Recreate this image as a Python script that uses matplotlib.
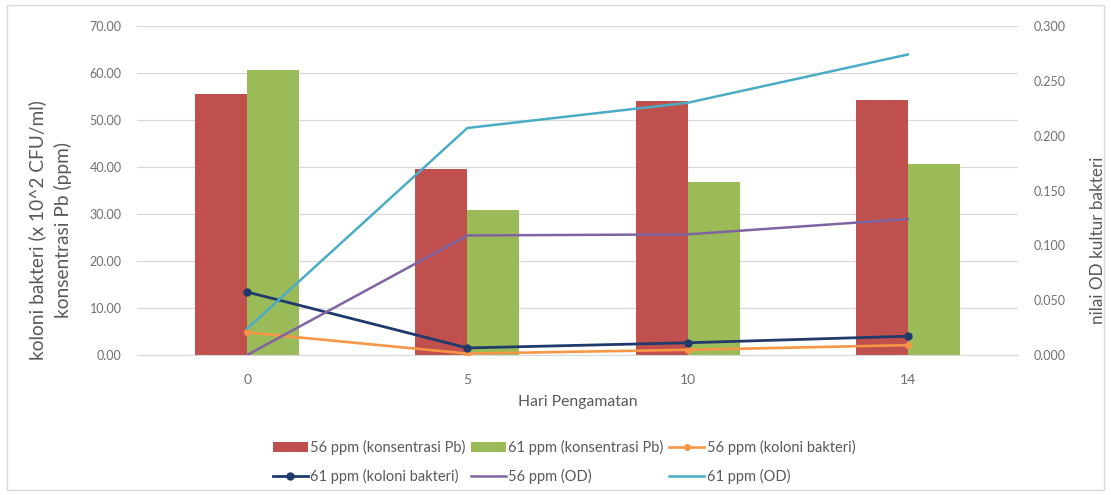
import matplotlib
matplotlib.use("Agg")
import matplotlib.pyplot as plt
from matplotlib.patches import Rectangle
import numpy as np

plt.rcParams['font.family'] = ['Lato', 'DejaVu Sans']

days = ['0', '5', '10', '14']
pb_56 = [55.6, 39.6, 54.1, 54.3]
pb_61 = [60.7, 30.9, 36.9, 40.6]
kol_56 = [4.8, 0.3, 1.1, 2.1]
kol_61 = [13.4, 1.5, 2.6, 4.0]
od_56 = [0.000, 0.109, 0.110, 0.124]
od_61 = [0.024, 0.207, 0.230, 0.274]

C_RED = '#C0504D'
C_GREEN = '#9BBB59'
C_ORANGE = '#F79646'
C_NAVY = '#1F3A6B'
C_PURPLE = '#8064A2'
C_CYAN = '#4BACC6'
TXT = '#595959'
TICK = '#707070'
GRID = '#D9D9D9'

fig = plt.figure(figsize=(11.11, 4.95), dpi=100)
ax = fig.add_axes([137/1111, 1-355/495, 881/1111, 329/495])
ax2 = ax.twinx()

x = np.arange(len(days))
bw = 0.236
b1 = ax.bar(x - bw/2, pb_56, bw, color=C_RED, zorder=2)
b2 = ax.bar(x + bw/2, pb_61, bw, color=C_GREEN, zorder=2)
l1, = ax.plot(x, kol_56, color=C_ORANGE, lw=1.9, marker='o', ms=4, zorder=4)
l2, = ax.plot(x, kol_61, color=C_NAVY, lw=2.0, marker='o', ms=5, zorder=5)
l3, = ax2.plot(x, od_56, color=C_PURPLE, lw=1.8, zorder=3)
l4, = ax2.plot(x, od_61, color=C_CYAN, lw=1.8, zorder=3)

ax.set_xlim(-0.5, len(days) - 0.5)
ax.set_ylim(0, 70)
ax2.set_ylim(0, 0.3)
ax.set_yticks(np.arange(0, 71, 10))
ax.set_yticklabels([f'{v:.2f}' for v in np.arange(0, 71, 10)])
ax2.set_yticks(np.arange(0, 0.301, 0.05))
ax2.set_yticklabels([f'{v:.3f}' for v in np.arange(0, 0.301, 0.05)])
ax.set_xticks(x)
ax.set_xticklabels(days)

ax.grid(axis='y', color=GRID, lw=0.9, zorder=0)
ax.set_axisbelow(True)
for a in (ax, ax2):
    for s in a.spines.values():
        s.set_visible(False)
ax.spines['bottom'].set_visible(True)
ax.spines['bottom'].set_color(GRID)

ax.tick_params(axis='both', length=0, colors=TICK, labelsize=9)
ax.tick_params(axis='y', pad=11)
ax.tick_params(axis='x', pad=14, labelsize=10)
ax2.tick_params(axis='y', length=0, colors=TICK, labelsize=9, pad=11)

ax.set_xlabel('Hari Pengamatan', color=TXT, fontsize=11.3, labelpad=6)
ax.set_ylabel('koloni bakteri (x 10^2 CFU/ml)\nkonsentrasi Pb (ppm)', color=TXT,
              fontsize=13.8, linespacing=1.5)
ax.yaxis.set_label_coords(-0.074, 0.38)
ax2.set_ylabel('nilai OD kultur bakteri', color=TXT, fontsize=12.3)
ax2.yaxis.set_label_coords(1.082, 0.35)

handles = [b1, l2, b2, l3, l1, l4]
labels = ['56 ppm (konsentrasi Pb)', '61 ppm (koloni bakteri)',
          '61 ppm (konsentrasi Pb)', '56 ppm (OD)',
          '56 ppm (koloni bakteri)', '61 ppm (OD)']
leg = fig.legend(handles, labels, ncol=3, frameon=False, loc='center',
                 bbox_to_anchor=(564/1111, 1-462/495), fontsize=10.5,
                 handlelength=2.4, columnspacing=0.4, handletextpad=0.15,
                 labelspacing=1.0)
for t in leg.get_texts():
    t.set_color(TXT)

fig.patches.append(Rectangle((7/1111, 5/495), 1097/1111, 485/495,
                             transform=fig.transFigure, fill=False,
                             edgecolor='#D9D9D9', lw=1))

fig.savefig('out.png', dpi=100)
